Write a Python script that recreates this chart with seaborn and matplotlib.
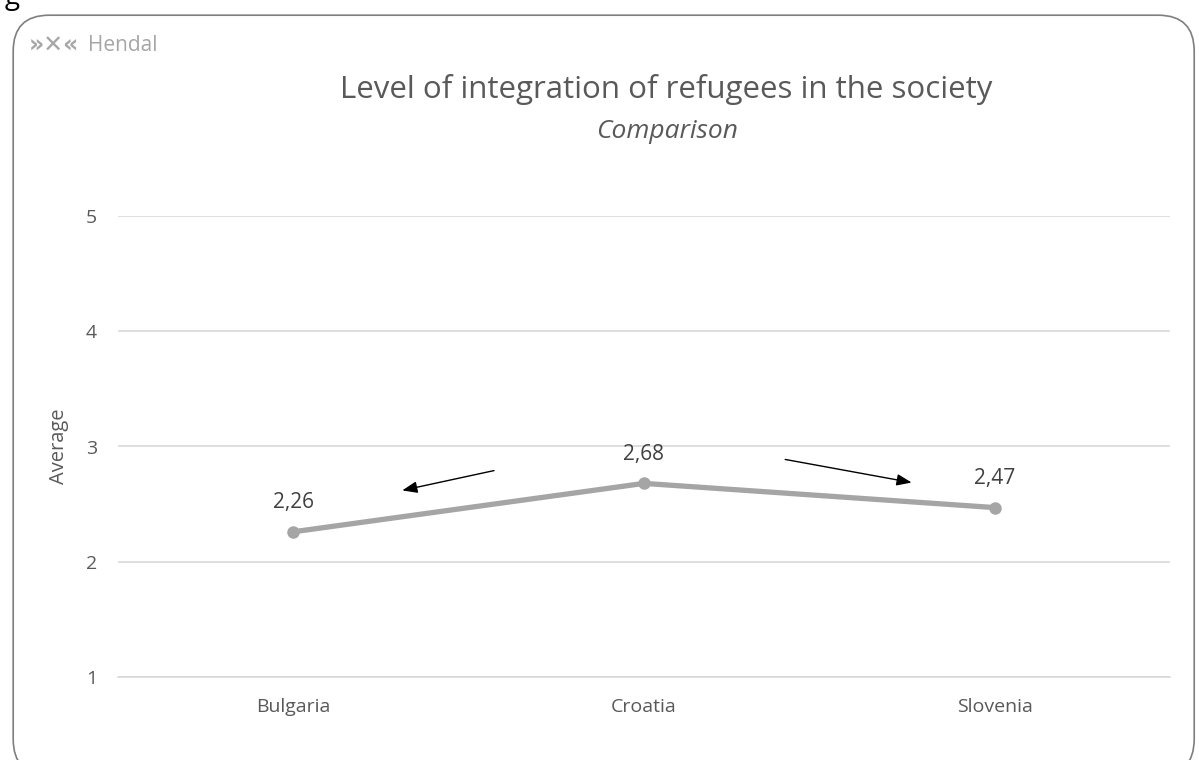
import matplotlib.pyplot as plt
import pandas as pd
import seaborn as sns
from matplotlib.patches import FancyBboxPatch

# data
countries = ['Bulgaria', 'Croatia', 'Slovenia']
averages = [2.26, 2.68, 2.47]
labels = ['2,26', '2,68', '2,47']

df = pd.DataFrame({'country': countries, 'average': averages})

sns.set_style('white')
plt.rcParams['font.family'] = ['Open Sans', 'DejaVu Sans']

fig = plt.figure(figsize=(11.99, 7.60), dpi=100)
ax = fig.add_axes([0.0984, 0.1092, 0.8774, 0.6066])

sns.lineplot(data=df, x='country', y='average', ax=ax, color='#A5A5A5',
             linewidth=3.8, marker='o', markersize=9, markeredgewidth=0)

ax.set_ylim(1, 5)
ax.set_xlim(-0.5, 2.5)
ax.set_yticks([1, 2, 3, 4, 5])
ax.grid(axis='y', color='#D9D9D9', linewidth=1.2)
ax.set_axisbelow(True)
for s in ['top', 'right', 'left']:
    ax.spines[s].set_visible(False)
ax.spines['bottom'].set_color('#D9D9D9')
ax.spines['bottom'].set_linewidth(1.2)
ax.tick_params(axis='both', length=0, labelsize=14, colors='#595959')
ax.tick_params(axis='y', pad=15)
ax.tick_params(axis='x', pad=15)
ax.set_xlabel('')
ax.set_ylabel('Average', fontsize=14.5, color='#595959', labelpad=12)

# value labels
for i, (v, t) in enumerate(zip(averages, labels)):
    ax.annotate(t, (i, v), xytext=(0, 21), textcoords='offset points',
                ha='center', va='center', fontsize=15, color='#404040')

# arrows
arrow = dict(arrowstyle='-|>,head_length=0.9,head_width=0.35', color='black', lw=1)
ax.annotate('', xy=(0.303, 2.614), xytext=(0.580, 2.796), arrowprops=arrow)
ax.annotate('', xy=(1.771, 2.683), xytext=(1.395, 2.892), arrowprops=arrow)

# titles
fig.text(0.556, 0.882, 'Level of integration of refugees in the society',
         ha='center', va='center', fontsize=22.5, color='#595959')
fig.text(0.556, 0.827, 'Comparison', ha='center', va='center', fontsize=19,
         color='#595959', style='italic')

# logo
fig.text(0.024, 0.94, '»✕«', ha='left', va='center', fontsize=17,
         color='#A6A6A6', fontweight='bold', family='DejaVu Sans')
fig.text(0.073, 0.94, 'Hendal', ha='left', va='center', fontsize=15,
         color='#A6A6A6')

# stray glyph from text above the frame
fig.text(0.004, 0.995, 'g', ha='left', va='baseline', fontsize=20, color='black')

# rounded frame
frame = FancyBboxPatch((0.011, -0.02), 0.985, 1.0, transform=fig.transFigure,
                       boxstyle='round,pad=0,rounding_size=0.03',
                       facecolor='none', edgecolor='#7F7F7F', linewidth=1.2,
                       mutation_aspect=11.99 / 7.6)
fig.patches.append(frame)

fig.savefig('out.png', dpi=100)
